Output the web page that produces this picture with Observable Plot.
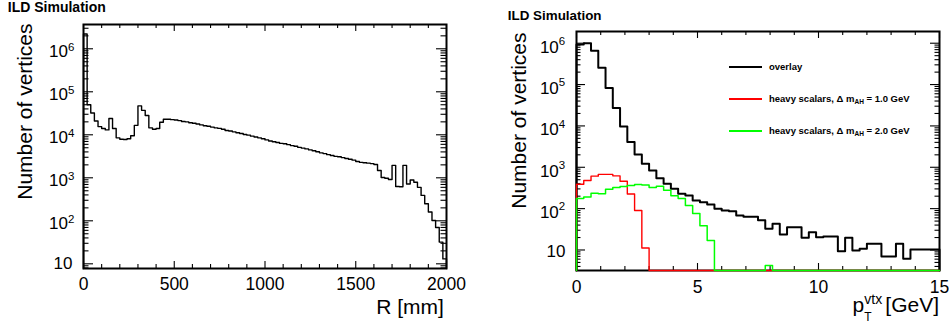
<!DOCTYPE html>
<html><head><meta charset="utf-8">
<script src="https://cdn.jsdelivr.net/npm/d3@7"></script>
<script src="https://cdn.jsdelivr.net/npm/@observablehq/plot@0.6"></script>
<style>
body{margin:0;background:#fff;}
#wrap{position:relative;width:949px;height:324px;overflow:hidden;background:#fff;font-family:"Liberation Sans",Arial,Helvetica,sans-serif;}
#left{position:absolute;left:0;top:0;}
#right{position:absolute;left:474px;top:0;}
.leg{position:absolute;font-weight:bold;font-size:9.5px;white-space:nowrap;line-height:12px;color:#000;}
.leg sub{font-size:6.5px;vertical-align:-2px;}
.sw{position:absolute;width:33px;}
</style></head><body>
<div id="wrap"><div id="left"></div><div id="right"></div><div id="legend"></div></div>
<script>
// ---------- data ----------
const rBinWidth = 20; // mm
const rCounts = [
 2200000, 50000, 32000, 21000, 15500, 14000, 13000, 24000, 14000, 8500,
 7900, 7800, 8100, 9500, 16600, 47000, 37000, 28000, 14500, 13500,
 14000, 19500, 23000, 23000, 22500, 22000, 21400, 20400, 20000, 19000,
 18600, 17800, 17000, 16200, 15800, 15100, 14500, 14100, 13500, 12600,
 12300, 11700, 11200, 10700, 10200, 9800, 9300, 8900, 8500, 8100,
 7600, 7200, 6900, 6600, 6300, 6200, 5900, 5600, 5400, 5100,
 4900, 4700, 4450, 4250, 4050, 3800, 3650, 3450, 3300, 3150,
 3090, 2950, 2820, 2690, 2570, 2400, 2290, 2240, 2190, 2140,
 2040, 1480, 1020, 980, 910, 1950, 630, 620, 1950, 720,
 890, 790, 600, 390, 250, 160, 102, 70, 32, 13
];
const ptBinWidth = 0.3; // GeV
const ptOverlay = [
 930000, 1000000, 660000, 254000, 83000, 27000, 9700, 4100, 2050, 1210,
 830, 545, 400, 302, 229, 208, 157, 143, 126, 99,
 90, 87, 68, 64, 64, 52, 32.5, 43, 23.7, 35.6,
 35.6, 19.7, 27, 20.4, 21.2, 21.2, 9.35, 19.7, 9.7, 10.7,
 14.1, 14.1, 7, 7, 14.1, 6.1, 10.3, 10.3, 10.3, 10.3
];
const ptScalars1 = [
 390, 480, 610, 675, 675, 620, 460, 225, 90, 11.2,
 0, 0, 0, 0, 0, 0, 0, 0, 0, 0,
 0, 0, 0, 0, 0, 0, 0, 0, 0, 0,
 0, 0, 0, 0, 0, 0, 0, 0, 0, 0,
 0, 0, 0, 0, 0, 0, 0, 0, 0, 0
];
const ptScalars2 = [
 175, 190, 235, 228, 295, 325, 345, 360, 385, 372,
 325, 346, 280, 205, 175, 119, 76, 38.5, 17, 0,
 0, 0, 0, 0, 0, 0, 4.2, 0, 0, 0,
 0, 0, 0, 0, 0, 0, 0, 0, 0, 0,
 0, 0, 0, 0, 0, 0, 0, 0, 0, 0
];
const yTickValues = [1e6, 1e5, 1e4, 1e3, 1e2, 10];
const yTickBase = ["10", "10", "10", "10", "10", "10"];
const yTickExp = ["6", "5", "4", "3", "2", ""];
const rTicks = [0, 500, 1000, 1500, 2000];
const rMinorStep = 100;
const ptTicks = [0, 5, 10, 15];
const ptMinorStep = 1;
const titleText = "ILD Simulation";
const yTitle = "Number of vertices";
const legendNames = ["overlay", "heavy scalars, \u0394 m", "heavy scalars, \u0394 m"];
const legendSubs = ["", "AH", "AH"];
const legendTails = ["", " = 1.0 GeV", " = 2.0 GeV"];
const seriesColors = ["#000000", "#ff0000", "#00ff00"];

// ---------- helpers ----------
const FONT = '"Liberation Sans", Arial, Helvetica, sans-serif';
function histPoints(counts, width, floor) {
  const pts = [{x: 0, y: floor}];
  counts.forEach((c, i) => pts.push({x: i * width, y: c > 0 ? c : floor}));
  const last = counts[counts.length - 1];
  pts.push({x: counts.length * width, y: last > 0 ? last : floor});
  pts.push({x: counts.length * width, y: floor});
  return pts;
}
function logTicks(lo, hi) {
  const major = [], minor = [];
  for (let e = 0; e <= 7; e++) for (let m = 1; m < 10; m++) {
    const v = m * Math.pow(10, e);
    if (v >= lo && v <= hi) (m === 1 ? major : minor).push(v);
  }
  return {major, minor};
}
function linMinor(lo, hi, step, majors) {
  const out = [];
  for (let v = lo; v <= hi + 1e-9; v += step) {
    const r = Math.round(v * 1000) / 1000;
    if (!majors.includes(r)) out.push(r);
  }
  return out;
}
const yLabelData = yTickValues.map((v, i) => ({v, base: yTickBase[i], exp: yTickExp[i]}));
const powers = yLabelData.filter(d => d.exp !== "");
const plains = yLabelData.filter(d => d.exp === "");

function tickMarks(FW, FH, xMajor, xMinor, yMajor, yMinor, lenYMaj, lenYMin, lenXMaj, lenXMin) {
  const s = {stroke: "black", strokeWidth: 1.1};
  return [
    Plot.ruleY(yMajor, {...s, insetRight: FW - lenYMaj}),
    Plot.ruleY(yMinor, {...s, insetRight: FW - lenYMin}),
    Plot.ruleY(yMajor, {...s, insetLeft: FW - lenYMaj}),
    Plot.ruleY(yMinor, {...s, insetLeft: FW - lenYMin}),
    Plot.ruleX(xMajor, {...s, insetTop: FH - lenXMaj}),
    Plot.ruleX(xMinor, {...s, insetTop: FH - lenXMin}),
    Plot.ruleX(xMajor, {...s, insetBottom: FH - lenXMaj}),
    Plot.ruleX(xMinor, {...s, insetBottom: FH - lenXMin})
  ];
}

// ---------- left panel ----------
{
  const W = 474, H = 324, ML = 83, MR = 28, MT = 24, MB = 56;
  const FW = W - ML - MR, FH = H - MT - MB;
  const yDom = [7.78, 3.67e6];
  const lt = logTicks(yDom[0], yDom[1]);
  const xMinor = linMinor(0, 2000, rMinorStep, rTicks);
  const plot = Plot.plot({
    width: W, height: H, marginLeft: ML, marginRight: MR, marginTop: MT, marginBottom: MB,
    x: {domain: [0, 2000], axis: null},
    y: {type: "log", domain: yDom, axis: null},
    style: {fontFamily: FONT, fontSize: "17px", background: "white", color: "black", overflow: "visible"},
    marks: [
      ...tickMarks(FW, FH, rTicks, xMinor, lt.major, lt.minor, 10, 5.5, 7, 4),
      Plot.frame({stroke: "black", strokeWidth: 2}),
      Plot.line(histPoints(rCounts, rBinWidth, yDom[0]), {x: "x", y: "y", curve: "step-after", stroke: "black", strokeWidth: 1.4}),
      Plot.text(powers, {y: "v", frameAnchor: "left", text: "base", textAnchor: "end", dx: -15.5, dy: 3, fontSize: 17}),
      Plot.text(powers, {y: "v", frameAnchor: "left", text: "exp", textAnchor: "start", dx: -15.5, dy: -1.5, fontSize: 11.5}),
      Plot.text(plains, {y: "v", frameAnchor: "left", text: "base", textAnchor: "end", dx: -11, fontSize: 17}),
      Plot.text(rTicks, {x: d => d, frameAnchor: "bottom", text: d => String(d), lineAnchor: "top", dy: 8.7, fontSize: 17.5}),
      Plot.text(["R [mm]"], {frameAnchor: "bottom-right", text: d => d, textAnchor: "end", lineAnchor: "bottom", dx: -2.7, dy: 45.5, fontSize: 21}),
      Plot.text([yTitle], {frameAnchor: "top-left", text: d => d, rotate: -90, textAnchor: "end", lineAnchor: "bottom", dx: -51.5, dy: -1, fontSize: 21}),
      Plot.text([titleText], {frameAnchor: "top-left", text: d => d, textAnchor: "start", lineAnchor: "bottom", dx: -75.7, dy: -12.3, fontSize: 14, fontWeight: "bold"})
    ]
  });
  document.getElementById("left").append(plot);
}

// ---------- right panel ----------
{
  const W = 475, H = 324, ML = 102, MR = 10, MT = 31, MB = 54;
  const FW = W - ML - MR, FH = H - MT - MB;
  const yDom = [3.19, 1.92e6];
  const lt = logTicks(yDom[0], yDom[1]);
  const xMinor = linMinor(0, 15, ptMinorStep, ptTicks);
  const series = [ptOverlay, ptScalars1, ptScalars2];
  const widths = [2, 1.4, 1.5];
  const plot = Plot.plot({
    width: W, height: H, marginLeft: ML, marginRight: MR, marginTop: MT, marginBottom: MB,
    x: {domain: [0, 15], axis: null},
    y: {type: "log", domain: yDom, axis: null},
    style: {fontFamily: FONT, fontSize: "17px", background: "white", color: "black", overflow: "visible"},
    marks: [
      ...tickMarks(FW, FH, ptTicks, xMinor, lt.major, lt.minor, 9, 4.5, 7, 4),
      Plot.frame({stroke: "black", strokeWidth: 2}),
      ...series.map((s, i) => Plot.line(histPoints(s, ptBinWidth, yDom[0]), {x: "x", y: "y", curve: "step-after", stroke: seriesColors[i], strokeWidth: widths[i]})),
      Plot.text(powers, {y: "v", frameAnchor: "left", text: "base", textAnchor: "end", dx: -17.7, dy: 4, fontSize: 17}),
      Plot.text(powers, {y: "v", frameAnchor: "left", text: "exp", textAnchor: "start", dx: -17.7, dy: -2, fontSize: 11.5}),
      Plot.text(plains, {y: "v", frameAnchor: "left", text: "base", textAnchor: "end", dx: -11, dy: 1.5, fontSize: 17}),
      Plot.text(ptTicks, {x: d => d, frameAnchor: "bottom", text: d => String(d), lineAnchor: "top", dy: 10, fontSize: 17.5}),
      Plot.text(["[GeV]"], {frameAnchor: "bottom-right", text: d => d, textAnchor: "end", lineAnchor: "bottom", dx: -0.5, dy: 41.7, fontSize: 21}),
      Plot.text(["p"], {frameAnchor: "bottom-right", text: d => d, textAnchor: "start", lineAnchor: "bottom", dx: -87, dy: 41.7, fontSize: 21}),
      Plot.text(["vtx"], {frameAnchor: "bottom-right", text: d => d, textAnchor: "start", lineAnchor: "bottom", dx: -75.2, dy: 33.3, fontSize: 14}),
      Plot.text(["T"], {frameAnchor: "bottom-right", text: d => d, textAnchor: "start", lineAnchor: "bottom", dx: -75.2, dy: 50, fontSize: 12}),
      Plot.text([yTitle], {frameAnchor: "top-left", text: d => d, rotate: -90, textAnchor: "end", lineAnchor: "bottom", dx: -51, dy: 1, fontSize: 21}),
      Plot.text([titleText], {frameAnchor: "top-left", text: d => d, textAnchor: "start", lineAnchor: "bottom", dx: -68.7, dy: -11.7, fontSize: 13.4, fontWeight: "bold"})
    ]
  });
  document.getElementById("right").append(plot);
}

// ---------- legend ----------
{
  const leg = document.getElementById("legend");
  const rows = [67, 99, 131];
  const swH = [2.5, 1.5, 2];
  legendNames.forEach((name, i) => {
    const sw = document.createElement("div");
    sw.className = "sw";
    sw.style.left = "729px";
    sw.style.top = (rows[i] - swH[i] / 2) + "px";
    sw.style.height = swH[i] + "px";
    sw.style.background = seriesColors[i];
    leg.append(sw);
    const t = document.createElement("div");
    t.className = "leg";
    t.style.left = "769px";
    t.style.top = (rows[i] - 6.5) + "px";
    t.append(document.createTextNode(name));
    if (legendSubs[i]) {
      const sub = document.createElement("sub");
      sub.textContent = legendSubs[i];
      t.append(sub);
      t.append(document.createTextNode(legendTails[i]));
    }
    leg.append(t);
  });
}
</script>
</body></html>
